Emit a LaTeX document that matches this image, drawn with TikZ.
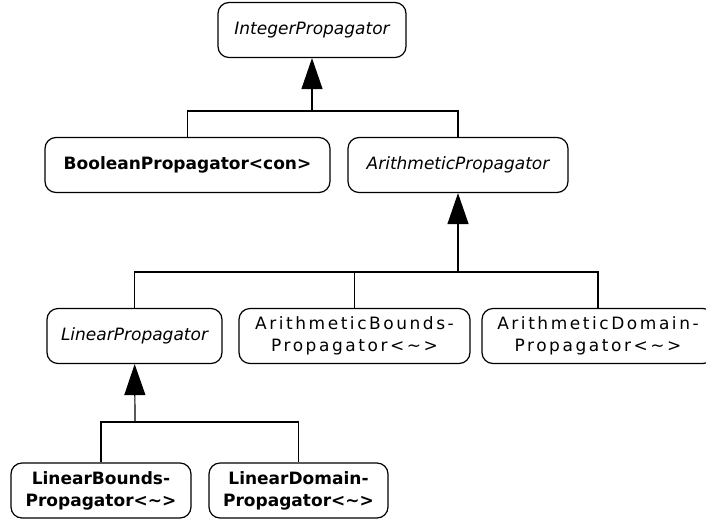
\documentclass[tikz,border=0pt]{standalone}
\usepackage{fontspec}
\setmainfont{DejaVu Sans}
\newfontfamily\spacedfont{DejaVu Sans}[LetterSpace=15]
\usetikzlibrary{arrows.meta}

\begin{document}
\begin{tikzpicture}[x=1pt, y=-1pt,
    cls/.style={draw, rounded corners=11pt, line width=1.2pt, minimum height=55pt,
                inner sep=0pt, font=\fontsize{17}{22}\selectfont, align=center},
    abstr/.style={cls, font=\fontsize{17}{22}\selectfont\itshape},
    concr/.style={cls, font=\fontsize{17}{22}\selectfont\bfseries},
    spaced/.style={cls, font=\fontsize{17}{22}\selectfont\spacedfont},
    gen/.style={-{Triangle[width=21pt, length=31pt]}, line width=1.2pt},
    link/.style={line width=1.2pt},
  ]
    \useasboundingbox (0,0) rectangle (706,520);
    \clip (0,0) rectangle (706,520);

    % top level
    \node[abstr, minimum width=188pt] (ip) at (312,30) {IntegerPropagator};

    % second level
    \node[concr, minimum width=285pt] (bp) at (187.5,165) {BooleanPropagator<con>};
    \node[abstr, minimum width=220pt] (ap) at (458,165) {ArithmeticPropagator};

    % third level
    \node[abstr, minimum width=175pt]  (lp)  at (134.5,336) {LinearPropagator};
    \node[spaced, minimum width=231pt] (abp) at (354.5,336) {ArithmeticBounds-\\Propagator<\textasciitilde>};
    \node[spaced, minimum width=232pt] (adp) at (598,336) {ArithmeticDomain-\\Propagator<\textasciitilde>};

    % bottom level
    \node[concr, minimum width=180pt] (lbp) at (101,490.5) {LinearBounds-\\Propagator<\textasciitilde>};
    \node[concr, minimum width=179pt] (ldp) at (298.5,490.5) {LinearDomain-\\Propagator<\textasciitilde>};

    % generalisation links
    \coordinate (j1) at (312,111);
    \coordinate (j2) at (458,272);
    \coordinate (j3) at (135,422);

    \draw[gen]  (j1) -- (ip);
    \draw[link] (bp.north) |- (j1) -| (ap.north);

    \draw[gen]  (j2) -- (ap);
    \draw[link] (lp.north) |- (j2) -| (adp.north);
    \draw[link] (abp.north) -- (abp.north |- j2);

    \draw[gen]  (j3) -- (lp);
    \draw[link] (lbp.north) |- (j3) -| (ldp.north);
\end{tikzpicture}
\end{document}
